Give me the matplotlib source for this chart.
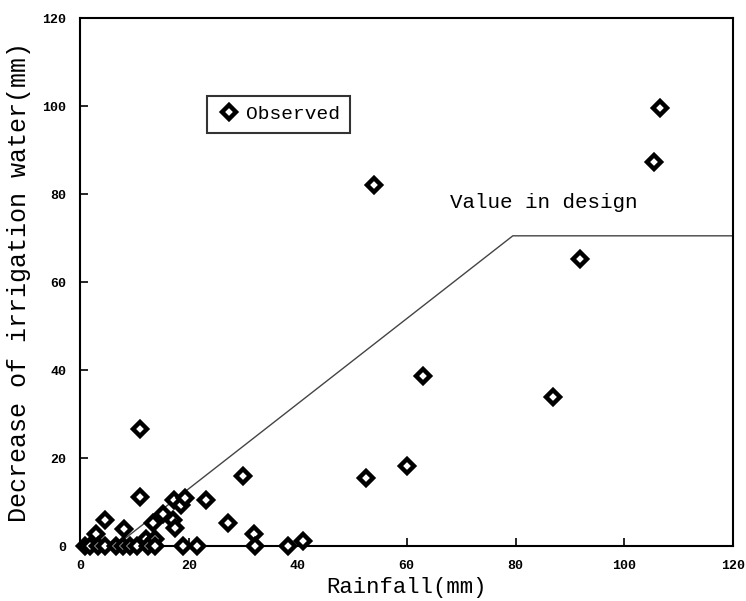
import matplotlib
matplotlib.use("Agg")
import matplotlib.pyplot as plt

# Observed points: rainfall (mm) vs decrease of irrigation water (mm)
rain = [1.0, 1.8, 2.9, 3.4, 4.6, 4.6, 6.7, 7.9, 8.1, 9.1, 10.4, 11.0, 11.1, 12.2, 12.5,
        13.4, 13.7, 13.7, 15.2, 17.2, 17.1, 17.4, 18.5, 19.2, 19.0, 21.5, 23.2, 27.1, 30.0,
        32.0, 32.2, 38.3, 41.0, 54.0, 52.5, 60.0, 63.0, 86.9, 91.8, 105.5, 106.5]
decrease = [0.0, 0.0, 2.7, 0.0, 6.0, 0.0, 0.0, 0.0, 3.8, 0.0, 0.0, 26.6, 11.1, 1.7, 0.0,
            5.3, 1.5, 0.0, 7.2, 10.5, 5.9, 4.0, 9.3, 10.8, 0.0, 0.0, 10.5, 5.3, 15.8,
            2.8, 0.0, 0.0, 1.2, 82.0, 15.5, 18.2, 38.6, 33.9, 65.2, 87.2, 99.6]

# design curve
design_x = [6.5, 79.5, 120]
design_y = [0, 70.5, 70.5]

mono = "Liberation Mono"

fig = plt.figure(figsize=(7.46, 6.01), dpi=100)
ax = fig.add_axes([0.1072, 0.0915, 0.8758, 0.8785])

ax.plot(design_x, design_y, color="#444444", lw=1.0, zorder=2)
ax.plot(rain, decrease, ls="none", marker="D", ms=7.5, mfc="white", mec="black",
        mew=3.2, label="Observed", zorder=3, clip_on=False)

ax.text(68, 78, "Value in design", family=mono, fontsize=15, va="center")

ax.set_xlim(0, 120)
ax.set_ylim(0, 120)
ax.set_xticks(range(0, 121, 20))
ax.set_yticks(range(0, 121, 20))
ax.tick_params(direction="in", length=6, width=1.2, top=False, right=False, pad=10)
for lab in ax.get_xticklabels() + ax.get_yticklabels():
    lab.set_family(mono)
    lab.set_fontweight("bold")
    lab.set_fontsize(9.5)
for s in ax.spines.values():
    s.set_linewidth(1.5)

ax.set_xlabel("Rainfall(mm)", family=mono, fontsize=16, labelpad=4)
ax.set_ylabel("Decrease of irrigation water(mm)", family=mono, fontsize=18, labelpad=8)

leg = ax.legend(loc="upper left", bbox_to_anchor=(0.18, 0.871), fancybox=False,
                edgecolor="black", handletextpad=0.3, borderpad=0.5,
                prop={"family": mono, "size": 14}, handlelength=1.2)
leg.get_frame().set_linewidth(1.5)

fig.savefig("out.png", dpi=100)
